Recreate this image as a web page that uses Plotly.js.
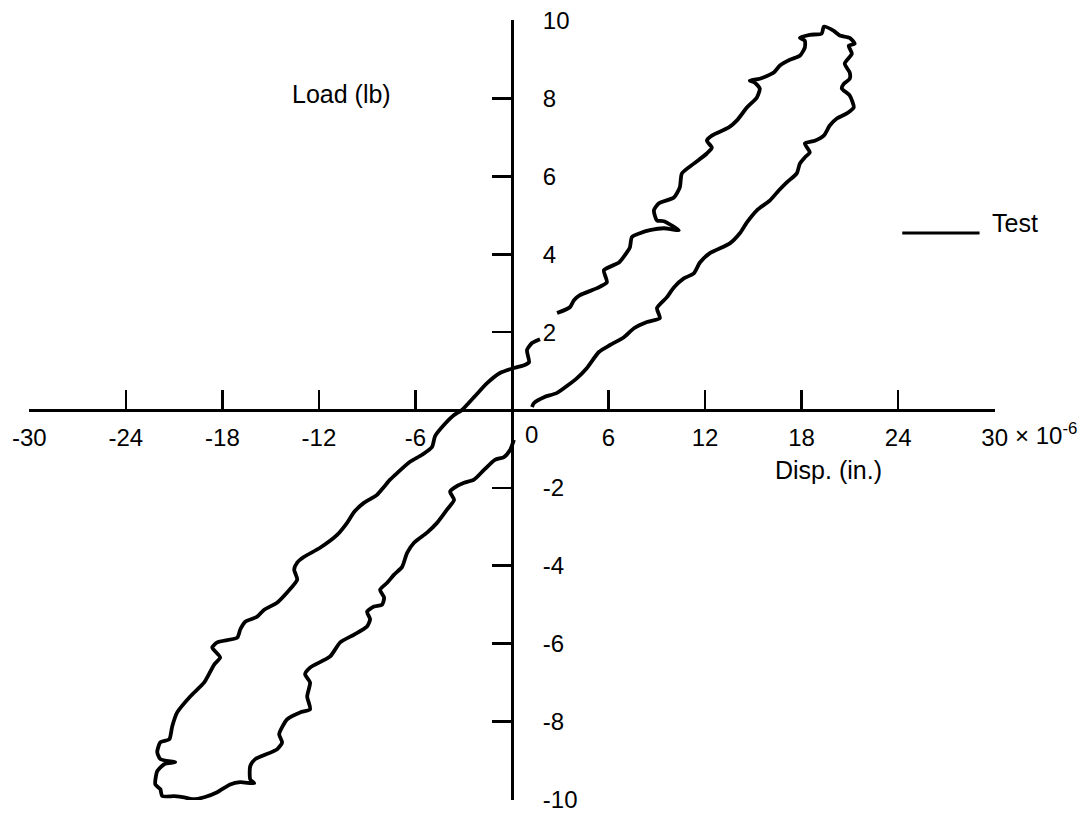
<!DOCTYPE html>
<html>
<head>
<meta charset="utf-8">
<script src="https://cdn.plot.ly/plotly-3.0.1.min.js"></script>
<style>html,body{margin:0;padding:0;background:#fff;}#chart{width:1087px;height:813px;}</style>
</head>
<body>
<div id="chart"></div>
<script>
// Displacement (x 10^-6 in.) and load (lb) of the test hysteresis loop.
// null entries are gaps in the drawn curve (next to the "2" and "0" labels).
const dispUpperRight = [2.80,3.60,3.85,4.22,5.28,5.90,5.71,6.65,7.14,7.33,7.45,7.95,8.57,9.44,10.37,9.44,9.01,8.82,9.13,10.06,10.43,10.56,11.30,12.11,12.42,12.11,12.42,13.48,13.98,14.60,15.22,15.40,15.09,14.78,15.40,16.27,16.65,17.27,17.89,18.20,18.20,17.89,18.51,19.25,19.38,20.00,20.37,20.99,21.30,20.93,21.12,20.68,20.99,20.99,20.62,20.50,20.99,21.24,20.81,20.19,19.75,19.38,18.82,18.20,18.51,18.20,17.89,17.70,17.08,16.58,16.02,15.22,14.60,14.16,13.54,12.30,11.68,11.30,10.68,10.06,9.63,9.01,9.19,8.39,7.58,6.96,6.09,5.40,4.66,4.04,2.80,1.99,1.37,1.24];
const loadUpperRight = [2.49,2.64,2.82,2.95,3.13,3.28,3.59,3.79,4.05,4.18,4.44,4.54,4.62,4.67,4.62,4.85,4.87,5.13,5.31,5.46,5.72,6.08,6.33,6.59,6.74,6.92,7.05,7.26,7.44,7.77,8.03,8.26,8.41,8.46,8.51,8.67,8.85,9.00,9.10,9.31,9.49,9.56,9.64,9.67,9.85,9.74,9.62,9.56,9.41,9.36,9.15,8.90,8.67,8.51,8.38,8.26,8.08,7.77,7.62,7.49,7.31,7.05,6.92,6.85,6.62,6.49,6.33,6.08,5.85,5.64,5.38,5.13,4.82,4.54,4.28,4.03,3.79,3.51,3.38,3.15,2.90,2.62,2.36,2.26,2.10,1.87,1.67,1.49,1.08,0.82,0.44,0.33,0.18,0.08];
const dispLowerLeft = [0.12,-0.12,-0.50,-1.06,-1.74,-2.36,-2.98,-3.60,-3.85,-3.60,-4.04,-4.66,-5.28,-6.09,-6.52,-6.83,-7.33,-7.76,-8.20,-7.95,-8.07,-8.57,-9.01,-8.82,-9.01,-9.81,-10.68,-11.30,-12.55,-12.86,-12.55,-12.73,-12.55,-13.17,-13.98,-14.47,-14.29,-14.60,-15.96,-16.27,-16.27,-16.02,-16.89,-17.52,-18.32,-19.13,-19.88,-20.37,-20.99,-21.74,-21.86,-22.17,-22.05,-21.61,-20.93,-21.86,-22.05,-21.86,-21.30,-21.12,-20.81,-20.00,-19.13,-18.51,-18.14,-18.63,-18.32,-17.08,-16.89,-16.58,-15.84,-15.40,-14.60,-13.98,-13.35,-13.54,-13.35,-12.92,-11.93,-10.87,-10.25,-9.81,-9.19,-8.39,-7.95,-7.58,-7.14,-6.34,-5.59,-4.97,-4.78,-4.22,-3.60,-3.11,-2.36,-1.55,-0.75,0.12,0.75,1.06,0.93,1.24,1.74];
const loadLowerLeft = [-0.77,-1.03,-1.21,-1.28,-1.54,-1.79,-1.87,-2.00,-2.10,-2.31,-2.56,-2.90,-3.15,-3.41,-3.67,-4.03,-4.23,-4.44,-4.62,-4.82,-5.00,-5.05,-5.18,-5.38,-5.56,-5.77,-5.97,-6.33,-6.62,-6.79,-7.00,-7.36,-7.69,-7.77,-7.95,-8.33,-8.54,-8.72,-8.97,-9.15,-9.49,-9.59,-9.56,-9.62,-9.82,-9.95,-10.00,-9.95,-9.92,-9.92,-9.74,-9.62,-9.28,-9.10,-9.05,-8.97,-8.79,-8.54,-8.46,-8.13,-7.77,-7.36,-7.00,-6.54,-6.36,-6.10,-5.97,-5.85,-5.64,-5.44,-5.31,-5.13,-4.95,-4.69,-4.36,-4.10,-3.92,-3.77,-3.54,-3.21,-2.90,-2.62,-2.38,-2.18,-1.97,-1.79,-1.62,-1.33,-1.15,-0.95,-0.67,-0.38,-0.13,0.00,0.33,0.69,0.95,1.08,1.15,1.23,1.54,1.72,1.82];

const xTickVals = [-30,-24,-18,-12,-6,6,12,18,24,30];
const xTickText = ["-30","-24","-18","-12","-6","6","12","18","24","30"];
const yTickVals = [-10,-8,-6,-4,-2,2,4,6,8,10];
const yTickText = ["-10","-8","-6","-4","-2","2","4","6","8","10"];
const seriesName = "Test";

const FONT = "'Liberation Sans', Arial, sans-serif";

const xs = dispUpperRight.concat([null], dispLowerLeft);
const ys = loadUpperRight.concat([null], loadLowerLeft);

const trace = {
  x: xs, y: ys, type: 'scatter', mode: 'lines', name: seriesName,
  connectgaps: false, showlegend: false,
  line: {color: '#000', width: 3.8, shape: 'spline', smoothing: 0.6},
  hoverinfo: 'skip'
};

const axisCommon = {
  showgrid: false, zeroline: false, showline: true,
  linecolor: '#000', linewidth: 3,
  ticks: 'inside', ticklen: 19, tickwidth: 2.5, tickcolor: '#000',
  tickfont: {family: FONT, size: 24, color: '#000'},
  tickmode: 'array', fixedrange: true
};

const layout = {
  width: 1087, height: 813,
  margin: {l: 29, r: 92, t: 20, b: 13, pad: 0},
  paper_bgcolor: '#fff', plot_bgcolor: '#fff',
  font: {family: FONT, size: 24, color: '#000'},
  showlegend: false,
  xaxis: Object.assign({}, axisCommon, {
    range: [-30.02, 30.02], anchor: 'free', position: 0.5, side: 'bottom',
    tickvals: xTickVals, ticktext: xTickText, ticklabelstandoff: 5
  }),
  yaxis: Object.assign({}, axisCommon, {
    range: [-10.02, 10.02], anchor: 'free', position: 0.5, side: 'right',
    tickvals: yTickVals, ticktext: yTickText, ticklabelstandoff: 24
  }),
  shapes: [
    {type: 'line', xref: 'paper', yref: 'paper', x0: 0.904, x1: 0.984, y0: 0.727, y1: 0.727,
     line: {color: '#000', width: 3}}
  ],
  annotations: [
    {text: 'Load (lb)', xref: 'paper', yref: 'paper', x: 0.324, y: 0.905, showarrow: false,
     xanchor: 'center', yanchor: 'middle', font: {family: FONT, size: 25, color: '#000'}},
    {text: 'Disp. (in.)', xref: 'paper', yref: 'paper', x: 0.828, y: 0.423, showarrow: false,
     xanchor: 'center', yanchor: 'middle', font: {family: FONT, size: 25, color: '#000'}},
    {text: seriesName, xref: 'paper', yref: 'paper', x: 0.995, y: 0.74, showarrow: false,
     xanchor: 'left', yanchor: 'middle', font: {family: FONT, size: 25, color: '#000'}},
    {text: '0', xref: 'paper', yref: 'paper', x: 0.511, y: 0.469, showarrow: false,
     xanchor: 'left', yanchor: 'middle', font: {family: FONT, size: 24, color: '#000'}},
    {text: '\u00d7 10<sup>-6</sup>', xref: 'paper', yref: 'paper', x: 1.019, y: 0.469, showarrow: false,
     xanchor: 'left', yanchor: 'middle', font: {family: FONT, size: 24, color: '#000'}}
  ]
};

Plotly.newPlot('chart', [trace], layout, {staticPlot: true, displayModeBar: false});
</script>
</body>
</html>
